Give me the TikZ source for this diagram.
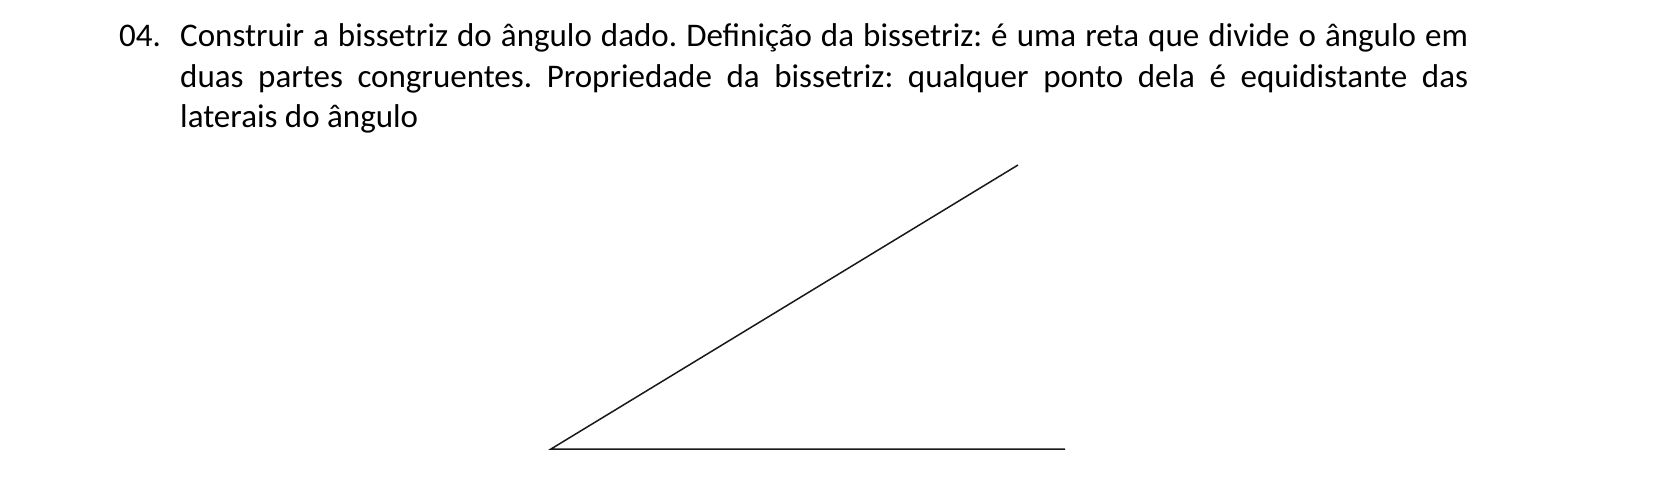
\documentclass[tikz,border=0pt]{standalone}
\usepackage{fontspec}
\setmainfont{Carlito}
\begin{document}
\begin{tikzpicture}[x=1pt,y=-1pt,
  ray/.style={draw=black!90,line width=1.5pt},
  txt/.style={inner sep=0pt,anchor=base west,font=\fontsize{33}{40.5}\selectfont}]
\useasboundingbox (0,0) rectangle (1654,497);
\node[txt] (num) at (119,47) {04.};
\node[txt] (para) at (180,47) {\parbox[t]{1288pt}{\fontsize{33}{40.5}\selectfont\frenchspacing\hyphenpenalty=10000\exhyphenpenalty=10000\parindent=0pt
Construir a bissetriz do ângulo dado. Definição da bissetriz: é uma reta que divide o ângulo em\linebreak
duas partes congruentes. Propriedade da bissetriz: qualquer ponto dela é equidistante das\linebreak
laterais do ângulo}};
\coordinate (V) at (551,449);
\coordinate (A) at (1018,165);
\coordinate (B) at (1065,449);
\draw[ray] (A) -- (V) -- (B);
\end{tikzpicture}
\end{document}
